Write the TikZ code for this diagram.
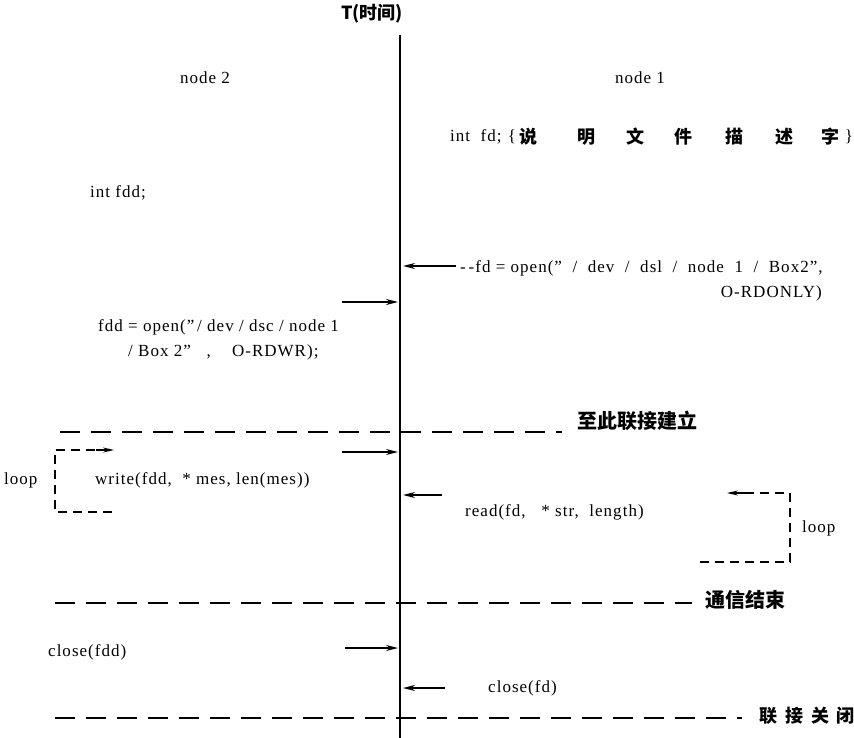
\documentclass[tikz,border=0pt]{standalone}
\usepackage{fontspec}
\setmainfont{Liberation Serif}[LetterSpace=6]
\newfontfamily\cjk{Noto Sans CJK SC}
\usetikzlibrary{arrows.meta}
\tikzset{
  lbl/.style={font=\fontsize{17}{19}\selectfont, inner sep=0pt},
  zh/.style={font=\cjk\bfseries\fontsize{20}{22}\selectfont, inner sep=0pt},
  zhs/.style={font=\cjk\bfseries\fontsize{18}{20}\selectfont, inner sep=0pt},
  sepline/.style={line width=1.3pt, dash pattern=on 20pt off 11pt},
  msg/.style={line width=1.5pt, -{Stealth[length=12pt,width=6pt]}},
  loopline/.style={line width=1.2pt, dash pattern=on 9pt off 6pt},
  loopend/.style={-{Stealth[length=11pt,width=5pt]}},
  axisline/.style={line width=1.6pt}
}
\begin{document}
\begin{tikzpicture}[x=1pt,y=-1pt]
\useasboundingbox (0,0) rectangle (854,738);
% time axis
\node[zhs] (T) at (372,14) {T(时间)};
\coordinate (ax0) at (400,35);
\coordinate (ax1) at (400,738);
\draw[axisline] (ax0) -- (ax1);
% headers
\node[lbl] (n2) at (205,78) {node 2};
\node[lbl] (n1) at (640,78) {node 1};
% declarations
\node[lbl,anchor=west] (intfd) at (450,137) {int\ \ fd;};
\node[lbl] (ob) at (512,137) {\{};
\node[zhs] (c1) at (528,137) {说};
\node[zhs] (c2) at (586,137) {明};
\node[zhs] (c3) at (635,137) {文};
\node[zhs] (c4) at (683,137) {件};
\node[zhs] (c5) at (734,137) {描};
\node[zhs] (c6) at (784,137) {述};
\node[zhs] (c7) at (830,137) {字};
\node[lbl] (cb) at (849,137) {\}};
\node[lbl,anchor=west] (intfdd) at (90,193) {int fdd;};
% open on node 1
\coordinate (a1s) at (456,266);
\coordinate (a1e) at (403,266);
\draw[msg] (a1s) -- (a1e);
\node[lbl,anchor=west] (open1) at (460,268) {-\,-fd = open("~ /~ dev~ /~ dsl~ /~ node~ 1~ /~ Box2",};
\node[lbl,anchor=east] (open1b) at (822,293) {O-RDONLY)};
% open on node 2
\coordinate (a2s) at (342,302);
\coordinate (a2e) at (398,302);
\draw[msg] (a2s) -- (a2e);
\node[lbl,anchor=west] (open2) at (98,327) {fdd = open("\,/ dev / dsc / node 1};
\node[lbl,anchor=west] (open2b) at (128,352) {/ Box 2"\ \ \ ,\ \ \ \ O-RDWR);};
% connection established
\coordinate (d1a) at (60,432);
\coordinate (d1b) at (562,432);
\draw[sepline] (d1a) -- (d1b);
\node[zh,anchor=west] (e1) at (577,421) {至此联接建立};
% write loop
\coordinate (a3s) at (342,452);
\coordinate (a3e) at (398,452);
\draw[msg] (a3s) -- (a3e);
\coordinate (l1a) at (112,512);
\coordinate (l1b) at (55,512);
\coordinate (l1c) at (55,450);
\coordinate (l1d) at (114,450);
\draw[loopline] (l1a) -- (l1b) -- (l1c) -- (l1d);
\draw[line width=1.4pt, loopend] (96,450) -- (l1d);
\node[lbl,anchor=west] (loopL) at (4,480) {loop};
\node[lbl,anchor=west] (wr) at (95,480) {write(fdd,\ \ * mes, len(mes))};
% read loop
\coordinate (a4s) at (442,495);
\coordinate (a4e) at (403,495);
\draw[msg] (a4s) -- (a4e);
\node[lbl,anchor=west] (rd) at (465,512) {read(fd,\ \ \ * str,\ \ length)};
\coordinate (l2a) at (700,562);
\coordinate (l2b) at (790,562);
\coordinate (l2c) at (790,493);
\coordinate (l2d) at (727,493);
\draw[loopline] (l2a) -- (l2b) -- (l2c) -- (l2d);
\draw[line width=1.4pt, loopend] (747,493) -- (l2d);
\node[lbl,anchor=west] (loopR) at (802,528) {loop};
% communication end
\coordinate (d2a) at (55,603);
\coordinate (d2b) at (692,603);
\draw[sepline] (d2a) -- (d2b);
\node[zh,anchor=west] (e2) at (705,600) {通信结束};
% close
\coordinate (a5s) at (345,648);
\coordinate (a5e) at (398,648);
\draw[msg] (a5s) -- (a5e);
\node[lbl,anchor=west] (cl2) at (48,652) {close(fdd)};
\coordinate (a6s) at (445,688);
\coordinate (a6e) at (403,688);
\draw[msg] (a6s) -- (a6e);
\node[lbl,anchor=west] (cl1) at (488,688) {close(fd)};
% connection closed
\coordinate (d3a) at (55,718);
\coordinate (d3b) at (742,718);
\draw[sepline] (d3a) -- (d3b);
\node[zhs] (f1) at (768,716) {联};
\node[zhs] (f2) at (794,716) {接};
\node[zhs] (f3) at (820,716) {关};
\node[zhs] (f4) at (845,716) {闭};
\end{tikzpicture}
\end{document}
